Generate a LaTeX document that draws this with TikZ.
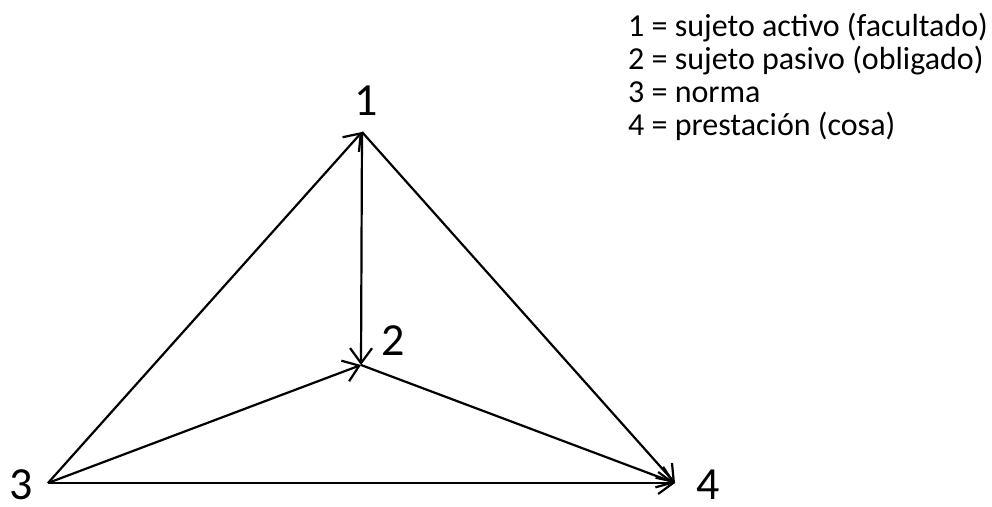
\documentclass[tikz,border=0pt]{standalone}
\usepackage{fontspec}
\setmainfont{Carlito}
\usetikzlibrary{arrows.meta}
\begin{document}
\begin{tikzpicture}[x=1pt,y=-1pt,
  edge/.style={line width=2.2pt,-{Straight Barb[length=15pt,width=22pt,line width=2.2pt]}},
  vlabel/.style={font=\fontsize{46}{48}\selectfont,inner sep=0pt},
  legend/.style={font=\fontsize{32}{33}\selectfont,inner sep=0pt,anchor=base west}]
\useasboundingbox (0,0) rectangle (992,506);
\coordinate (v1) at (362,132);
\coordinate (v2) at (361,365);
\coordinate (v3) at (48,483);
\coordinate (v4) at (675,483);
\node[vlabel] (l1) at (366,101) {1};
\node[vlabel] (l2) at (393,341) {2};
\node[vlabel] (l3) at (21,485) {3};
\node[vlabel] (l4) at (708,485) {4};
\draw[edge] (v3) -- (v1);
\draw[edge] (v1) -- (v2);
\draw[edge] (v3) -- (v2);
\draw[edge] (v1) -- (v4);
\draw[edge] (v2) -- (v4);
\draw[edge] (v3) -- (v4);
\node[legend] (leg1) at (628,36) {1 = sujeto activo (facultado)};
\node[legend] (leg2) at ([yshift=-33pt]leg1.base west) {2 = sujeto pasivo (obligado)};
\node[legend] (leg3) at ([yshift=-33pt]leg2.base west) {3 = norma};
\node[legend] (leg4) at ([yshift=-33pt]leg3.base west) {4 = prestación (cosa)};
\end{tikzpicture}
\end{document}
